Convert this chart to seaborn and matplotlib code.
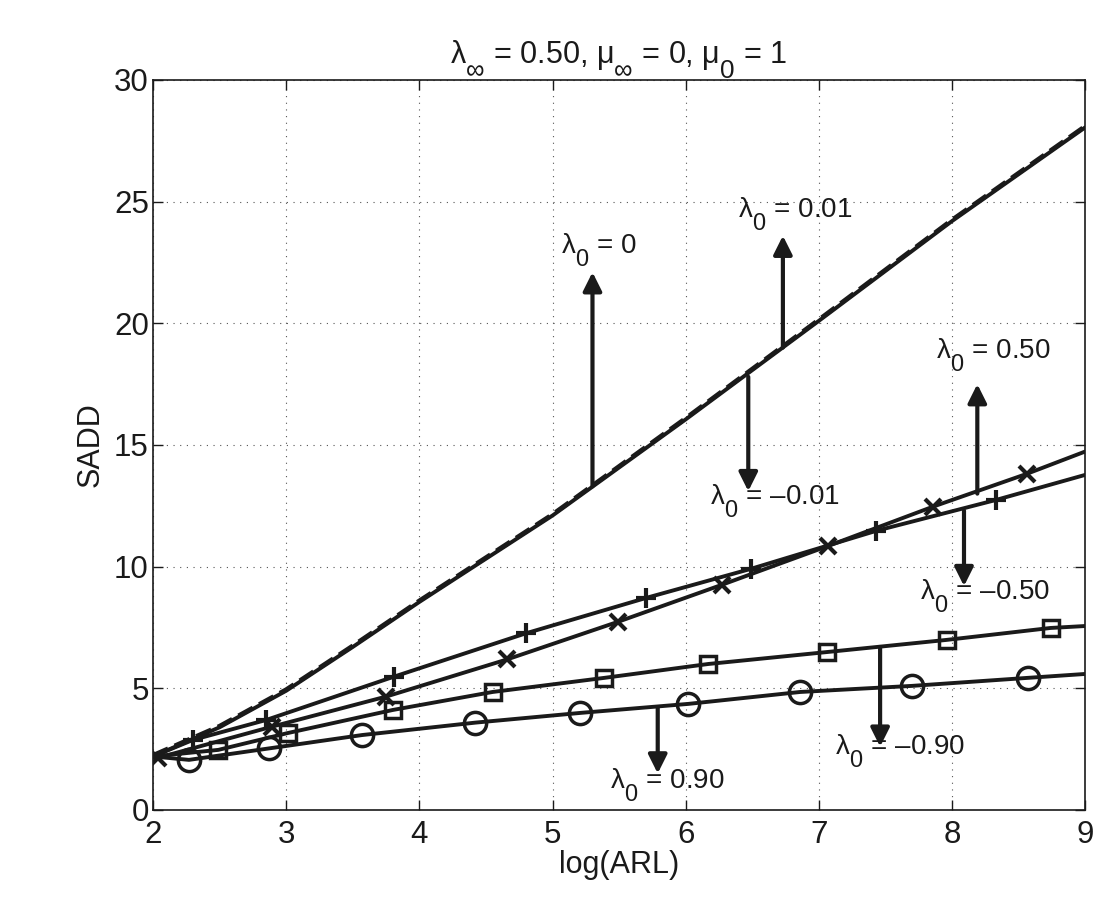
import numpy as np
import pandas as pd
import seaborn as sns
import matplotlib.pyplot as plt
from matplotlib import _mathtext

# curves (log(ARL) vs SADD)
steep_x = [2.0, 2.5, 3.0, 3.5, 4.0, 5.0, 6.0, 7.0, 8.0, 9.0]
steep_y = [2.2, 3.4, 4.9, 6.7, 8.55, 12.1, 16.05, 20.1, 24.2, 28.05]
steep_dash_y = [2.25, 3.45, 4.95, 6.75, 8.6, 12.15, 16.1, 20.15, 24.25, 28.1]

plus_x = [2.0, 2.30, 2.85, 3.81, 4.80, 5.70, 6.49, 7.43, 8.33, 9.0]
plus_y = [2.2, 2.88, 3.70, 5.48, 7.26, 8.71, 9.91, 11.47, 12.74, 13.77]

cross_x = [2.0, 2.04, 2.89, 3.75, 4.66, 5.49, 6.27, 7.07, 7.86, 8.56, 9.0]
cross_y = [2.15, 2.15, 3.42, 4.66, 6.19, 7.73, 9.25, 10.85, 12.47, 13.81, 14.73]

square_x = [2.0, 2.49, 3.01, 3.80, 4.55, 5.39, 6.17, 7.06, 7.96, 8.74, 9.0]
square_y = [2.2, 2.47, 3.16, 4.11, 4.85, 5.43, 6.00, 6.49, 6.99, 7.48, 7.56]

circle_x = [2.0, 2.27, 2.87, 3.57, 4.42, 5.21, 6.02, 6.86, 7.70, 8.57, 9.0]
circle_y = [2.2, 2.06, 2.53, 3.08, 3.59, 3.99, 4.36, 4.85, 5.10, 5.43, 5.59]

# arrow annotations: label, x, arrow base y, arrow tip y, text x, text y
notes = [
    ("0", 5.30, 13.3, 22.1, 5.35, 23.0),
    ("0.01", 6.73, 19.0, 23.6, 6.82, 24.5),
    ("\u20130.01", 6.47, 17.8, 13.1, 6.67, 12.7),
    ("0.50", 8.19, 13.0, 17.5, 8.31, 18.7),
    ("\u20130.50", 8.09, 12.3, 9.2, 8.25, 8.8),
    ("\u20130.90", 7.46, 6.7, 2.6, 7.61, 2.4),
    ("0.90", 5.79, 4.2, 1.5, 5.86, 1.0),
]

sns.set_theme(style="white")
plt.rcParams['font.family'] = ['Liberation Sans', 'DejaVu Sans']
plt.rcParams['mathtext.fontset'] = 'custom'
plt.rcParams['mathtext.rm'] = 'Liberation Sans'
plt.rcParams['mathtext.it'] = 'Liberation Sans'
plt.rcParams['mathtext.default'] = 'regular'
plt.rcParams['text.color'] = 'k'
plt.rcParams['axes.labelcolor'] = 'k'
# matlab style subscripts: bigger and dropped lower
_mathtext.SHRINK_FACTOR = 0.85
_mathtext.FontConstantsBase.sub1 = 0.9
_mathtext.FontConstantsBase.sub2 = 0.95

fig = plt.figure(figsize=(11.13, 8.98), dpi=100)
ax = fig.add_axes([0.1375, 0.098, 0.8375, 0.813])

lw = 2.8
sns.lineplot(x=steep_x, y=steep_y, color='k', lw=lw, ax=ax)
sns.lineplot(x=steep_x, y=steep_dash_y, color='k', lw=3.2, linestyle='--', ax=ax)
sns.lineplot(x=plus_x, y=plus_y, color='k', lw=lw, marker='+', markersize=15,
             markeredgewidth=3, markeredgecolor='k', markevery=slice(1, -1), ax=ax)
sns.lineplot(x=cross_x, y=cross_y, color='k', lw=lw, marker='x', markersize=12,
             markeredgewidth=3, markeredgecolor='k', markevery=slice(1, -1), ax=ax)
sns.lineplot(x=square_x, y=square_y, color='k', lw=lw, marker='s', markersize=12,
             markerfacecolor='none', markeredgecolor='k', markeredgewidth=2.5,
             markevery=slice(1, -1), ax=ax)
sns.lineplot(x=circle_x, y=circle_y, color='k', lw=lw, marker='o', markersize=16,
             markerfacecolor='none', markeredgecolor='k', markeredgewidth=2.5,
             markevery=slice(1, -1), ax=ax)

for lab, x, y0, y1, tx, ty in notes:
    ax.annotate('', xy=(x, y1), xytext=(x, y0),
                arrowprops=dict(arrowstyle='-|>', lw=3, color='k', mutation_scale=28,
                                shrinkA=0, shrinkB=0))
    ax.text(tx, ty, '\u03bb$_0$ = ' + lab, fontsize=20, ha='center', va='center')

ax.set_xlim(2, 9)
ax.set_ylim(0, 30)
ax.set_xticks(range(2, 10))
ax.set_yticks(range(0, 31, 5))
ax.grid(True, linestyle=(0, (1, 5)), color='#555555', lw=0.8)
ax.tick_params(direction='in', length=7, width=1, labelsize=22.5, colors='k',
               top=True, right=True, bottom=True, left=True)
ax.tick_params(axis='x', pad=7)
ax.tick_params(axis='y', pad=3)
for s in ax.spines.values():
    s.set_color('k')
    s.set_linewidth(1.2)
ax.set_xlabel('log(ARL)', fontsize=22, labelpad=0)
ax.set_ylabel('SADD', fontsize=22, labelpad=6)
ax.set_title('\u03bb$_\\infty$ = 0.50, \u03bc$_\\infty$ = 0, \u03bc$_0$ = 1', fontsize=22, pad=12)

plt.savefig('out.png', dpi=100, facecolor='white')
